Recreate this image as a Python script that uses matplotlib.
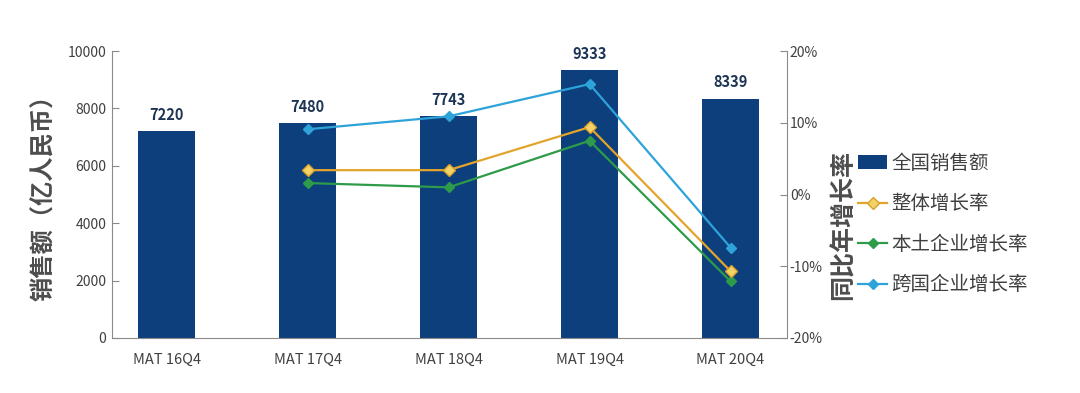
import matplotlib
matplotlib.use("Agg")
import matplotlib.pyplot as plt

plt.rcParams['font.family'] = ['Noto Sans CJK SC', 'DejaVu Sans']

# data
periods = ["MAT 16Q4", "MAT 17Q4", "MAT 18Q4", "MAT 19Q4", "MAT 20Q4"]
sales = [7220, 7480, 7743, 9333, 8339]          # 亿人民币
growth_periods = [1, 2, 3, 4]                     # no growth value for 16Q4
growth_total = [3.4, 3.4, 9.4, -10.7]             # 整体增长率 (%)
growth_local = [1.6, 1.0, 7.5, -12.1]             # 本土企业增长率 (%)
growth_mnc = [9.1, 10.9, 15.4, -7.4]              # 跨国企业增长率 (%)

left_ticks = [0, 2000, 4000, 6000, 8000, 10000]
right_ticks = [-20, -10, 0, 10, 20]

bar_color = "#0c3f7c"
text_grey = "#404040"
axis_grey = "#8a8a8a"

fig = plt.figure(figsize=(10.8, 3.93), dpi=100)
ax = fig.add_axes([0.1037, 0.140, 0.625, 0.730])
ax2 = ax.twinx()

x = list(range(len(periods)))
bars = ax.bar(x, sales, width=0.40, color=bar_color, label="全国销售额", zorder=2)
for xi, v in zip(x, sales):
    ax.annotate(str(v), (xi, v), xytext=(0, 6), textcoords="offset points",
                ha="center", va="bottom", fontsize=10.5, fontweight="bold",
                color="#1d3454")

ax.set_xlim(-0.387, 4.40)
ax.set_ylim(0, 10000)
ax.set_yticks(left_ticks)
ax.set_xticks(x)
ax.set_xticklabels(periods)
ax.tick_params(axis="x", length=0, pad=11, labelsize=10.5, labelcolor=text_grey)
ax.tick_params(axis="y", direction="in", length=5, pad=4, labelsize=10,
               labelcolor=text_grey, color=axis_grey)
for side in ["top", "right"]:
    ax.spines[side].set_visible(False)
for side in ["left", "bottom"]:
    ax.spines[side].set_color(axis_grey)

l1, = ax2.plot(growth_periods, growth_total, color="#e3a42c", lw=1.6, marker="D",
               markersize=6.5, markerfacecolor="#f3d267", markeredgecolor="#d9a12a",
               label="整体增长率", zorder=4)
l2, = ax2.plot(growth_periods, growth_local, color="#2e9b4a", lw=1.6, marker="D",
               markersize=5, label="本土企业增长率", zorder=3)
l3, = ax2.plot(growth_periods, growth_mnc, color="#2ea3da", lw=1.6, marker="D",
               markersize=5, label="跨国企业增长率", zorder=3)

ax2.set_ylim(-20, 20)
ax2.set_yticks(right_ticks)
ax2.set_yticklabels([f"{t}%" for t in right_ticks])
ax2.tick_params(axis="y", direction="in", length=5, pad=2, labelsize=10,
                labelcolor=text_grey, color=axis_grey)
for side in ["top", "left", "bottom"]:
    ax2.spines[side].set_visible(False)
ax2.spines["right"].set_color(axis_grey)

fig.text(0.041, 0.512, "销售额（亿人民币）", rotation=90, ha="center", va="center",
         fontsize=17.5, fontweight="bold", color="#4d4d4d")
fig.text(0.781, 0.428, "同比年增长率", rotation=90, ha="center", va="center",
         fontsize=18, fontweight="bold", color="#4d4d4d")

fig.legend(handles=[bars, l1, l2, l3], loc="upper left",
           bbox_to_anchor=(858 / 1080, (393 - 153) / 393), frameon=False,
           fontsize=14, labelcolor=text_grey, handlelength=1.5, handletextpad=0.2,
           labelspacing=1.0, borderpad=0, borderaxespad=0)

fig.savefig("out.png", dpi=100)
